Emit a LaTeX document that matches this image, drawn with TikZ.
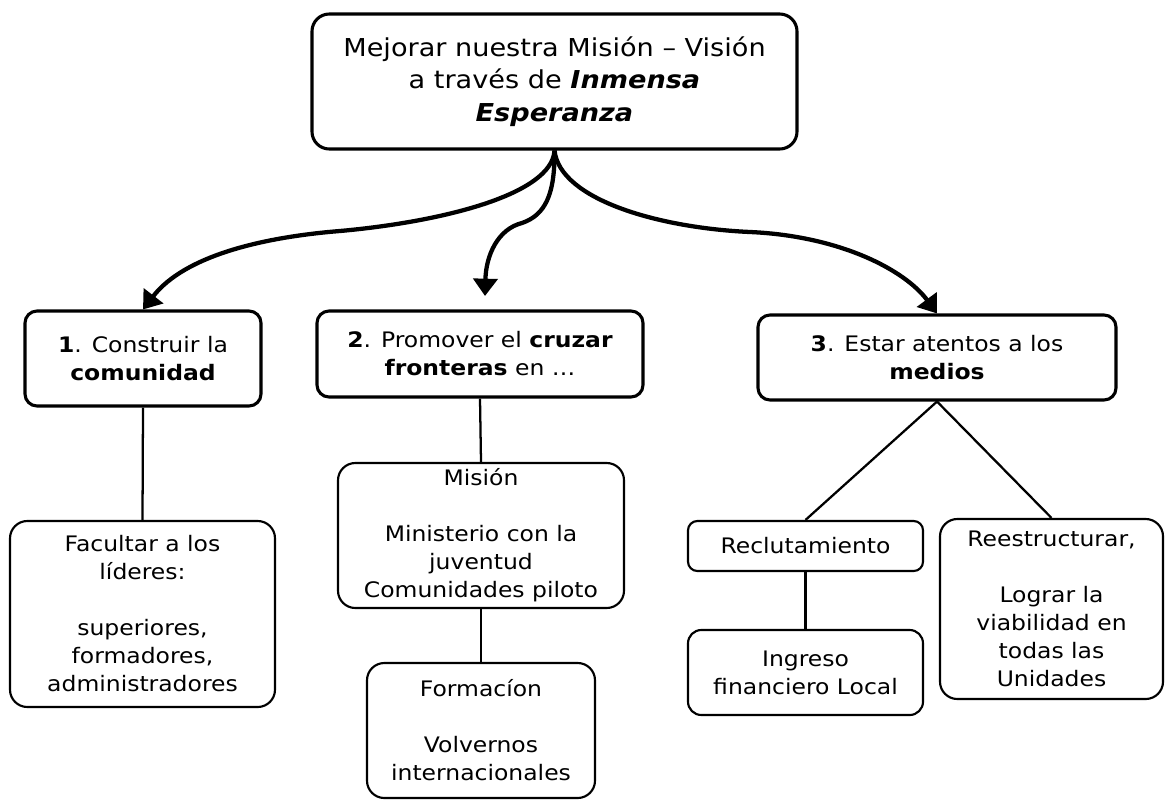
\documentclass[tikz,border=0pt]{standalone}
\usepackage{fontspec}
\setmainfont[FakeStretch=1.1]{DejaVu Sans}
\usetikzlibrary{arrows.meta}
\tikzset{
  box/.style={draw, line width=#1, align=center, inner sep=0pt, text=black},
  mainbox/.style={box=2.3pt, rounded corners=9pt, font=\fontsize{16}{21}\selectfont},
  subbox/.style={box=1.6pt, rounded corners=13pt, font=\fontsize{16}{21}\selectfont},
  link/.style={line width=1.7pt},
  bigarrow/.style={line width=3.2pt, -{Triangle[length=13pt,width=18pt]}}
}
\begin{document}
\begin{tikzpicture}[x=0.75pt,y=-0.75pt]
\useasboundingbox (0,0) rectangle (1167,800);

\node[box=2.3pt, rounded corners=13pt, font=\fontsize{18.5}{24.4}\selectfont,
      minimum width=363.75pt, minimum height=101.25pt] (top) at (554.5,81.5)
  {Mejorar nuestra Misión – Visión\\ a través de \textbf{\textit{Inmensa}}\\ \textbf{\textit{Esperanza}}};

\node[mainbox, minimum width=177pt, minimum height=71.25pt] (b1) at (143,358.5)
  {\textbf{1}. Construir la\\ \textbf{comunidad}};
\node[mainbox, minimum width=244.5pt, minimum height=64.5pt] (b2) at (480,354)
  {\textbf{2}. Promover el \textbf{cruzar}\\ \textbf{fronteras} en …};
\node[mainbox, minimum width=268.5pt, minimum height=63.75pt] (b3) at (937,357.5)
  {\textbf{3}. Estar atentos a los\\ \textbf{medios}};

\node[subbox, minimum width=198.75pt, minimum height=139.5pt] (fac) at (142.5,614)
  {Facultar a los\\ líderes:\\[21pt] superiores,\\ formadores,\\ administradores};
\node[subbox, minimum width=214.5pt, minimum height=108.75pt] (mis) at (481,535.5)
  {Misión\\[21pt] Ministerio con la\\ juventud\\ Comunidades piloto};
\node[subbox, minimum width=171pt, minimum height=101.25pt] (for) at (481,730.5)
  {Formacíon\\[21pt] Volvernos\\ internacionales};
\node[subbox, rounded corners=7pt, minimum width=176.25pt, minimum height=37.5pt] (rec) at (805.5,546)
  {Reclutamiento};
\node[subbox, rounded corners=10pt, minimum width=176.25pt, minimum height=63.75pt] (ing) at (805.5,672.5)
  {Ingreso\\ financiero Local};
\node[subbox, minimum width=167.25pt, minimum height=135pt] (ree) at (1051.5,609)
  {Reestructurar,\\[21pt] Lograr la\\ viabilidad en\\ todas las\\ Unidades};

\coordinate (a2end) at (485,296);

\draw[bigarrow] (top.south) .. controls (552,195) and (440,222) .. (340,231)
  .. controls (265,237) and (185,255) .. (b1.north);
\draw[bigarrow] (top.south) .. controls (555,195) and (545,215) .. (522,223)
  .. controls (498,229) and (486,255) .. (a2end);
\draw[bigarrow] (top.south) .. controls (560,200) and (660,228) .. (750,232)
  .. controls (840,236) and (905,270) .. (b3.north);

\draw[link] (b1.south) -- (fac.north);
\draw[link] (b2.south) -- (mis.north);
\draw[link] (mis.south) -- (for.north);
\draw[link] (b3.south) -- (rec.north);
\draw[link] (b3.south) -- (ree.north);
\draw[link] (rec.south) -- (ing.north);
\end{tikzpicture}
\end{document}
